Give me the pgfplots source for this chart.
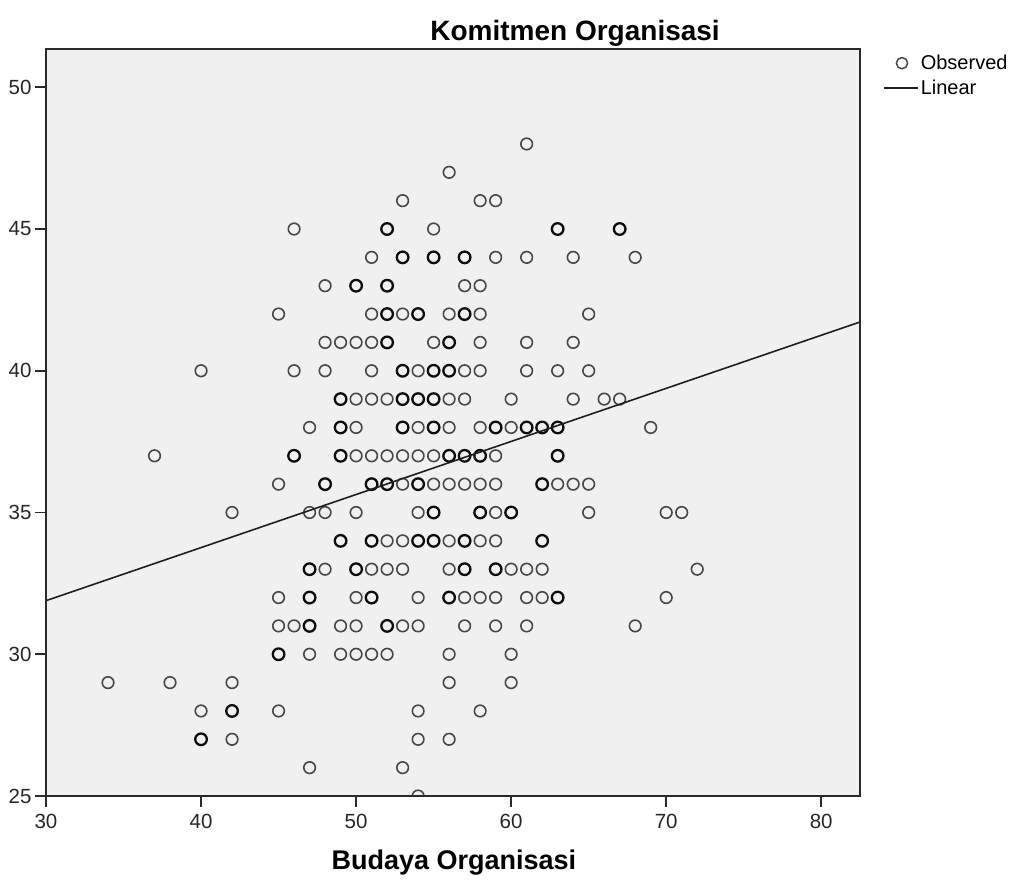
\documentclass[border=0pt]{standalone}
\usepackage{pgfplots}
\pgfplotsset{compat=1.18}
\usepackage{fontspec}
\setmainfont{Liberation Sans}

\definecolor{plotbg}{HTML}{F0F0F0}
\definecolor{frame}{HTML}{2A2A2A}

\begin{document}
\begin{tikzpicture}
\useasboundingbox (-46bp,-86bp) rectangle (969bp,796bp);
\begin{axis}[
  scale only axis,
  width=814bp, height=747bp,
  xmin=30, xmax=82.5,
  ymin=25, ymax=51.35,
  xtick={30,40,50,60,70,80},
  ytick={25,30,35,40,45,50},
  minor tick num=0,
  tick align=outside,
  major tick length=11bp,
  xtick pos=bottom, ytick pos=left,
  axis line style={frame, line width=1.6bp},
  every tick/.style={frame, line width=1.6bp},
  axis background/.style={fill=plotbg},
  axis on top,
  clip marker paths=true,
  /pgf/number format/assume math mode=true,
  tick label style={font=\fontsize{20.5bp}{24bp}\selectfont, text=black!85},
  xticklabel style={yshift=-4bp},
  title={\bfseries Komitmen Organisasi},
  title style={font=\fontsize{28bp}{33bp}\selectfont, at={(axis description cs:0.65,1.0135)}, anchor=center},
  xlabel={\bfseries Budaya Organisasi},
  xlabel style={font=\fontsize{27bp}{32bp}\selectfont, at={(axis description cs:0.501,-0.0885)}, anchor=center},
  legend style={at={(axis description cs:1,1)}, anchor=north west, xshift=20bp, yshift=-2bp,
    draw=none, fill=none, font=\fontsize{20bp}{23bp}\selectfont, row sep=5bp,
    nodes={inner sep=2bp}},
  legend cell align=left,
]

% every respondent, one circle per distinct (x, y) pair
\addplot[only marks, mark=o, mark size=5.8bp, draw=black!72, line width=1.6bp,
  legend image code/.code={\draw[mark=o, mark size=5.6bp, black!72, line width=1.5bp] plot coordinates {(18bp,0bp)};}]
table {
x y
61 48
56 47
53 46
58 46
59 46
46 45
55 45
51 44
59 44
61 44
64 44
68 44
48 43
57 43
58 43
45 42
51 42
53 42
56 42
58 42
65 42
48 41
49 41
50 41
51 41
55 41
58 41
61 41
64 41
40 40
46 40
48 40
51 40
54 40
57 40
58 40
61 40
63 40
65 40
50 39
51 39
52 39
56 39
57 39
60 39
64 39
66 39
67 39
47 38
50 38
54 38
56 38
58 38
60 38
69 38
37 37
50 37
51 37
52 37
53 37
54 37
55 37
59 37
45 36
53 36
55 36
56 36
57 36
58 36
59 36
63 36
64 36
65 36
42 35
47 35
48 35
50 35
54 35
59 35
65 35
70 35
71 35
52 34
53 34
56 34
58 34
59 34
48 33
51 33
52 33
53 33
56 33
60 33
61 33
62 33
72 33
45 32
50 32
54 32
57 32
58 32
59 32
61 32
62 32
70 32
45 31
46 31
49 31
50 31
53 31
54 31
57 31
59 31
61 31
68 31
47 30
49 30
50 30
51 30
52 30
56 30
60 30
34 29
38 29
42 29
56 29
60 29
40 28
45 28
54 28
58 28
42 27
54 27
56 27
47 26
53 26
54 25
};
\addlegendentry{Observed}

% pairs shared by two or more respondents
\addplot[only marks, mark=o, mark size=5.8bp, draw=black!95, line width=2.3bp, forget plot]
table {
x y
52 45
63 45
67 45
53 44
55 44
57 44
50 43
52 43
52 42
54 42
57 42
52 41
56 41
53 40
55 40
56 40
49 39
53 39
54 39
55 39
49 38
53 38
55 38
59 38
61 38
62 38
63 38
46 37
49 37
56 37
57 37
58 37
63 37
48 36
51 36
52 36
54 36
62 36
55 35
58 35
60 35
49 34
51 34
54 34
55 34
57 34
62 34
47 33
50 33
57 33
59 33
47 32
51 32
56 32
63 32
47 31
52 31
45 30
42 28
40 27
};

% fitted linear trend
\addplot[black!88, line width=1.6bp,
  legend image code/.code={\draw[black!88, line width=1.6bp] (0bp,0bp) -- (34bp,0bp);}]
coordinates {(30,31.89) (82.5,41.72)};
\addlegendentry{Linear}

\end{axis}
\end{tikzpicture}
\end{document}
